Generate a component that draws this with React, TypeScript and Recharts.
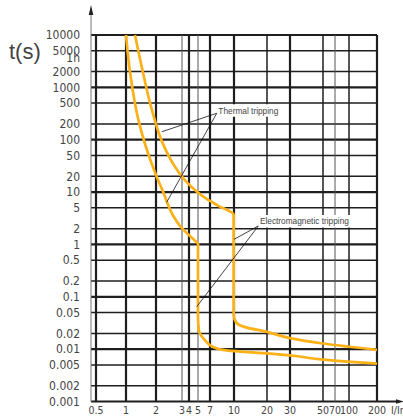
import React from "react";
import {
  LineChart,
  Line,
  XAxis,
  YAxis,
  CartesianGrid,
  ReferenceLine,
  ReferenceDot,
} from "recharts";

// I/In values printed under the x axis
const xTicks = [0.5, 1, 2, 3, 4, 5, 7, 10, 20, 30, 50, 70, 100, 200];
// the printed grid is only roughly logarithmic, so each x gridline gets its own slot (px from the left axis)
const xTickPos = [5, 35, 65, 91, 98, 107, 119, 143, 176, 199, 232, 244, 258, 286];
const xThick = [0.5, 1, 2, 4, 7, 10, 30, 200];
const xMedium = [20, 50, 100];
const xThin = [3, 5, 70];

const yTicks = [
  10000, 5000, 2000, 1000, 500, 200, 100, 50, 20, 10, 5, 2, 1, 0.5, 0.2, 0.1,
  0.05, 0.02, 0.01, 0.005, 0.002, 0.001,
];
const yThick = [10000, 1000, 100, 10, 1, 0.1, 0.01, 0.001];
const ONE_HOUR = 3600;

// lower (left) tripping curve
const lowerCurrent = [1.0, 1.1, 1.32, 1.95, 2.24, 2.62, 2.91, 4.84, 5.0, 5.0, 5.12, 6.08, 7.35, 8.97, 21, 30, 50, 200];
const lowerTime = [10000, 1900, 256, 24, 9.9, 3.5, 2.25, 1.1, 1.04, 0.042, 0.023, 0.0148, 0.011, 0.0095, 0.0082, 0.0076, 0.0063, 0.0053];

// upper (right) tripping curve
const upperCurrent = [1.23, 1.45, 1.8, 2.2, 2.66, 3.64, 6.38, 7.92, 9.95, 9.95, 10.4, 12.6, 20, 30, 50, 200];
const upperTime = [10000, 2300, 400, 91, 32, 15.5, 7.4, 5.47, 3.7, 0.045, 0.033, 0.0263, 0.0214, 0.0162, 0.0128, 0.0097];

// callouts: label anchor and the two points each leader goes to
const thermalAnchor = { current: 7.74, time: 320 };
const thermalTips = [
  { current: 2.19, time: 142 },
  { current: 2.36, time: 6.36 },
];
const magneticAnchor = { current: 16.66, time: 2.25 };
const magneticTips = [
  { current: 10, time: 1.25 },
  { current: 4.85, time: 0.0647 },
];

const CURVE = "#FBB117";
const GRID = "#1e1e1e";
const narrow = "'Liberation Sans Narrow', 'DejaVu Sans Condensed', sans-serif";
const sans = "'Liberation Sans', Arial, sans-serif";

function toX(c: number): number {
  for (let i = 0; i < xTicks.length - 1; i++) {
    const a = xTicks[i];
    const b = xTicks[i + 1];
    if (c <= b || i === xTicks.length - 2) {
      const f = Math.log(c / a) / Math.log(b / a);
      return xTickPos[i] + f * (xTickPos[i + 1] - xTickPos[i]);
    }
  }
  return 0;
}

const renderCallout =
  (text: string, width: number, top: number) =>
  (props: any) => {
    const { cx, cy } = props;
    return (
      <g>
        <rect x={cx + 0.5} y={cy - top} width={width} height={12.5} fill="#fff" />
        <text
          x={cx + 1.6}
          y={cy - top + 6.5}
          dy="0.35em"
          fontSize={8.3}
          fontFamily={sans}
          fill="#444"
        >
          {text}
        </text>
      </g>
    );
  };

export default function App() {
  const lowerData = lowerCurrent.map((c, i) => ({ x: toX(c), t: lowerTime[i] }));
  const upperData = upperCurrent.map((c, i) => ({ x: toX(c), t: upperTime[i] }));

  const leader = (a: { current: number; time: number }, b: { current: number; time: number }, key: string) => (
    <ReferenceLine
      key={key}
      segment={[
        { x: toX(a.current), y: a.time },
        { x: toX(b.current), y: b.time },
      ]}
      stroke="#111"
      strokeWidth={0.8}
    />
  );

  return (
    <div
      style={{
        position: "absolute",
        left: 0,
        top: 0,
        width: 403,
        height: 416,
        background: "#fff",
        overflow: "hidden",
      }}
    >
      <LineChart width={403} height={416} margin={{ top: 35, right: 26, bottom: 0, left: 31 }}>
        <CartesianGrid
          stroke={GRID}
          strokeWidth={2.2}
          horizontalValues={yThick}
          verticalValues={xThick.map(toX)}
        />
        <CartesianGrid
          stroke={GRID}
          strokeWidth={1.5}
          horizontalValues={yTicks.filter((v) => !yThick.includes(v))}
          verticalValues={xMedium.map(toX)}
        />
        <CartesianGrid stroke="#555" strokeWidth={1} horizontal={false} verticalValues={xThin.map(toX)} />
        <XAxis
          type="number"
          dataKey="x"
          domain={[0, 286]}
          allowDataOverflow
          ticks={xTickPos}
          interval={0}
          tickFormatter={(v) => String(xTicks[xTickPos.indexOf(v)] ?? "")}
          height={14.5}
          axisLine={false}
          tickLine={false}
          tickSize={0}
          tickMargin={5}
          tick={{ fontFamily: narrow, fontSize: 10.5, fill: "#444" }}
        />
        <YAxis
          type="number"
          scale="log"
          domain={[0.001, 10000]}
          allowDataOverflow
          ticks={[...yTicks, ONE_HOUR]}
          interval={0}
          tickFormatter={(v) => (v === ONE_HOUR ? "1h" : String(v))}
          width={60}
          axisLine={false}
          tickLine={false}
          tickSize={0}
          tickMargin={11}
          tick={{ fontFamily: narrow, fontSize: 12, fill: "#444" }}
        />
        <Line
          data={lowerData}
          dataKey="t"
          type="monotoneY"
          stroke={CURVE}
          strokeWidth={2.7}
          dot={false}
          isAnimationActive={false}
        />
        <Line
          data={upperData}
          dataKey="t"
          type="monotoneY"
          stroke={CURVE}
          strokeWidth={2.7}
          dot={false}
          isAnimationActive={false}
        />
        <ReferenceDot
          x={toX(thermalAnchor.current)}
          y={thermalAnchor.time}
          r={1}
          shape={renderCallout("Thermal tripping", 63, 9)}
        />
        <ReferenceDot
          x={toX(magneticAnchor.current)}
          y={magneticAnchor.time}
          r={1}
          shape={renderCallout("Electromagnetic tripping", 93, 11)}
        />
        {thermalTips.map((p, i) => leader(thermalAnchor, p, "th" + i))}
        {magneticTips.map((p, i) => leader(magneticAnchor, p, "em" + i))}
      </LineChart>
      <svg
        width={403}
        height={416}
        style={{ position: "absolute", left: 0, top: 0, pointerEvents: "none" }}
      >
        <text x={9} y={59} fontSize={22} fontFamily={sans} fill="#444">
          t(s)
        </text>
        <line x1={91} y1={402} x2={91} y2={14} stroke="#777" strokeWidth={1} />
        <polygon points="91,5 88.7,15 93.3,15" fill="#222" />
        <line x1={377} y1={401.5} x2={398} y2={401.5} stroke={GRID} strokeWidth={2} />
        <polygon points="404,401.5 396,399.2 396,403.8" fill="#222" />
        <text x={391} y={414} fontSize={10.5} fontFamily={narrow} fill="#444">
          I/In
        </text>
      </svg>
    </div>
  );
}
